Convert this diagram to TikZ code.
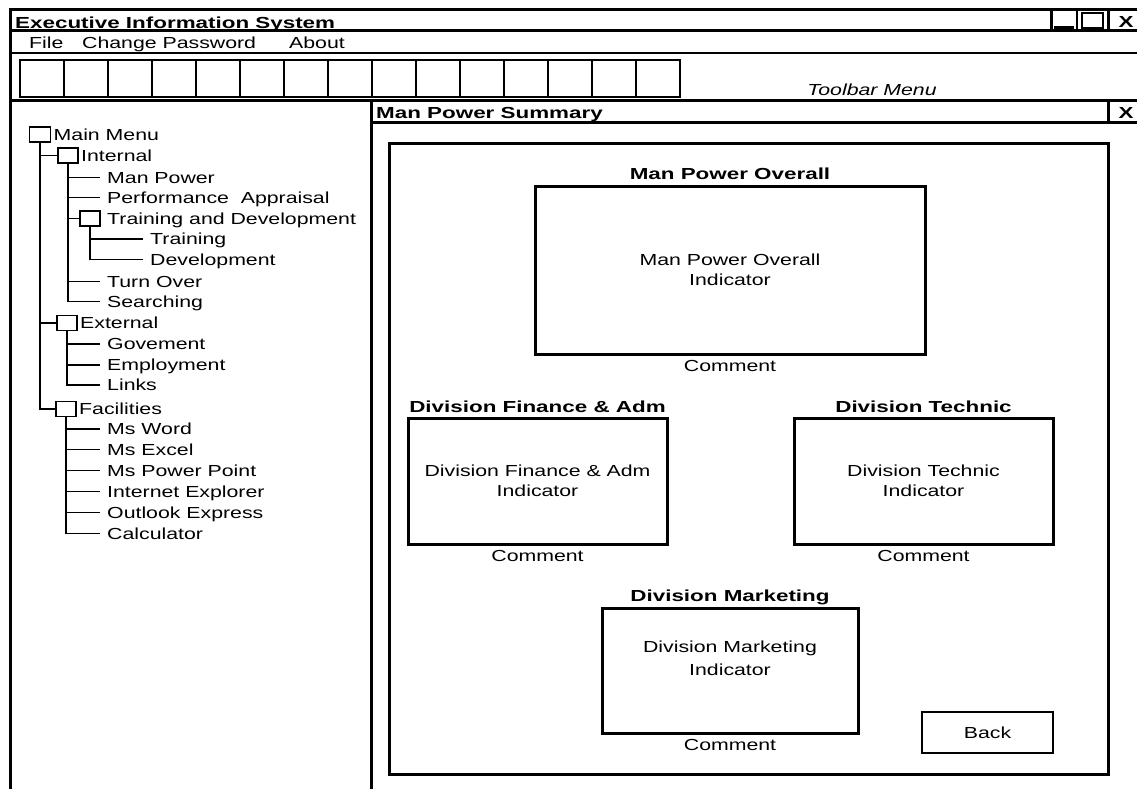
\documentclass[tikz,border=0pt]{standalone}
\usepackage{fontspec}
\usetikzlibrary{positioning}
\newfontfamily\uiface[FakeStretch=1.33]{Liberation Sans}
\newfontfamily\uibface[FakeStretch=1.4]{Liberation Sans Bold}
\newcommand{\uifont}{\uiface\fontsize{16}{20}\selectfont}
\newcommand{\uibfont}{\uibface\fontsize{16}{20}\selectfont}

\begin{document}
\begin{tikzpicture}[x=1pt, y=-1pt,
  frame/.style={line width=3pt},
  ruling/.style={line width=2pt},
  branch/.style={line width=1.5pt},
  txt/.style={font=\uifont, inner sep=0pt, text height=11.5pt, text depth=0pt},
  btxt/.style={font=\uibfont, inner sep=0pt, text height=11.5pt, text depth=0pt},
  leaf/.style={txt, anchor=west, inner xsep=7pt},
  folder/.style={draw, line width=1.5pt, minimum width=20pt, minimum height=15pt, inner sep=0pt, outer sep=0pt},
  tbtn/.style={draw, line width=2pt, minimum width=44pt, minimum height=37pt, inner sep=0pt, outer sep=0pt},
  panel/.style={draw, line width=3pt, font=\uifont, align=center, inner sep=0pt}]
  \path[use as bounding box, fill=white] (0,0) rectangle (1137,789);
  \clip (0,0) rectangle (1137,789);
  % ================================================================== main window
  \draw[frame] (10,800) -- (10,10) -- (1145,10);
  \draw[frame] (10,31) -- (1145,31);
  \draw[ruling] (10,53) -- (1145,53);
  \draw[frame] (10,101) -- (1145,101);
  \node[btxt, anchor=west] (wtitle) at (15,22.5) {Executive Information System};
  \draw[frame] (1051,10) -- (1051,31);
  \draw[ruling] (1077,10) -- (1077,31);
  \draw[frame] (1108,10) -- (1108,31);
  \draw[frame] (1054,28) -- (1074,28);
  \draw[ruling] (1082,13) rectangle (1103,28);
  \node[btxt] (wclose) at (1126,21.5) {X};
  \node[txt, anchor=west] (mfile) at (29,43) {File};
  \node[txt, anchor=west] (mpass) at (82,43) {Change Password};
  \node[txt, anchor=west] (mabout) at (289,43) {About};
  \foreach \i in {0,...,14} \node[tbtn] (tb\i) at (42+44*\i,78.5) {};
  \node[txt, font=\uifont\itshape] (tbar) at (872,89.5) {Toolbar Menu};
  % ================================================================== tree (left pane)
  \draw[frame] (371,101) -- (371,800);
  \node[folder, minimum width=21pt] (mm) at (40,134.5) {};
  \node[txt, right=3pt of mm] (mmt) {Main Menu};
  \node[folder] (int) at (68,155.5) {};
  \node[txt, right=3pt of int] (intt) {Internal};
  \draw[branch] (mm.south) |- (int.west);
  \foreach \nd/\yy/\tx in {mp/177.3/Man Power, pa/197.7/Performance\ \ Appraisal, to/281.7/Turn Over, se/301.7/Searching} {
    \node[leaf] (\nd) at (100,\yy) {\tx};
    \draw[branch] (int.south) |- (\nd.west);
  }
  \node[folder] (td) at (90,218.5) {};
  \node[txt, right=7pt of td] (tdt) {Training and Development};
  \draw[branch] (int.south) |- (td.west);
  \foreach \nd/\yy/\tx in {tr/239/Training, dv/259.5/Development} {
    \node[leaf] (\nd) at (143,\yy) {\tx};
    \draw[branch] (td.south) |- (\nd.west);
  }
  \node[folder] (ext) at (67,323) {};
  \node[txt, right=3pt of ext] (extt) {External};
  \draw[branch] (mm.south) |- (ext.west);
  \foreach \nd/\yy/\tx in {gv/344/Govement, em/365/Employment, lk/385/Links} {
    \node[leaf] (\nd) at (100,\yy) {\tx};
    \draw[branch] (ext.south) |- (\nd.west);
  }
  \node[folder] (fac) at (66,409) {};
  \node[txt, right=3pt of fac] (fact) {Facilities};
  \draw[branch] (mm.south) |- (fac.west);
  \foreach \nd/\yy/\tx in {mw/429/Ms Word, mx/449.5/Ms Excel, pp/470.5/Ms Power Point, ie/491.7/Internet Explorer, oe/512.7/Outlook Express, ca/533.3/Calculator} {
    \node[leaf] (\nd) at (100,\yy) {\tx};
    \draw[branch] (fac.south) |- (\nd.west);
  }
  % ================================================================== summary (right pane)
  \draw[frame] (371,123) -- (1145,123);
  \draw[frame] (1108,101) -- (1108,123);
  \node[btxt, anchor=west] (stitle) at (376,113) {Man Power Summary};
  \node[btxt] (sclose) at (1126,113) {X};
  \draw[frame] (389,143) rectangle (1108,774);
  \node[panel, minimum width=390pt, minimum height=168pt] (mpo) at (730,270) {Man Power Overall\\Indicator};
  \node[btxt, above=4.5pt of mpo] (mpoh) {Man Power Overall};
  \node[txt, below=4.5pt of mpo] (mpoc) {Comment};
  \node[panel, minimum width=259pt, minimum height=126pt] (dfa) at (537.5,481) {Division Finance \& Adm\\Indicator};
  \node[btxt, above=4pt of dfa] (dfah) {Division Finance \& Adm};
  \node[txt, below=4pt of dfa] (dfac) {Comment};
  \node[panel, minimum width=259pt, minimum height=126pt] (dt) at (923.5,481) {Division Technic\\Indicator};
  \node[btxt, above=4pt of dt] (dth) {Division Technic};
  \node[txt, below=4pt of dt] (dtc) {Comment};
  \node[panel, minimum width=256pt, minimum height=125pt, text depth=24.4pt] (dm) at (730,670.5) {Division Marketing\\[3pt]Indicator};
  \node[btxt, above=5pt of dm] (dmh) {Division Marketing};
  \node[txt, below=4.5pt of dm] (dmc) {Comment};
  \node[draw, line width=2.5pt, minimum width=131pt, minimum height=41pt, font=\uifont] (back) at (987.5,732.5) {Back};
\end{tikzpicture}
\end{document}
